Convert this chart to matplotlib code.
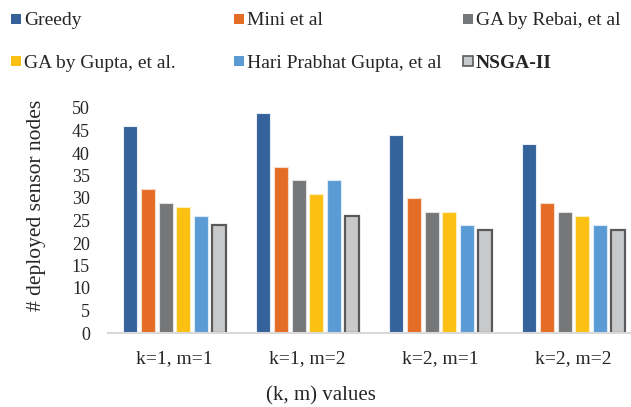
import numpy as np
import matplotlib.pyplot as plt
from matplotlib.patches import Rectangle

plt.rcParams['font.family'] = ['Liberation Serif', 'DejaVu Serif']

# Number of deployed sensor nodes per (k, m) setting
categories = ['k=1, m=1', 'k=1, m=2', 'k=2, m=1', 'k=2, m=2']
methods = ['Greedy', 'Mini et al', 'GA by Rebai, et al',
           'GA by Gupta, et al.', 'Hari Prabhat Gupta, et al', 'NSGA-II']
greedy = [46, 49, 44, 42]
mini = [32, 37, 30, 29]
rebai = [29, 34, 27, 27]
gupta_ga = [28, 31, 27, 26]
hari_gupta = [26, 34, 24, 24]
nsga2 = [24, 26, 23, 23]
series = [greedy, mini, rebai, gupta_ga, hari_gupta, nsga2]

colors = ['#35629A', '#E46C25', '#767779', '#FCC012', '#5B9BD5', '#C8C9CA']
edges = ['#E8EEF5', '#F8DCCB', '#E2E2E2', '#FDEFC0', '#DCE9F6', '#5A5A5A']
widths = [0.8, 0.8, 0.8, 0.8, 0.8, 1.6]

W, H = 631, 407
fig = plt.figure(figsize=(W / 100, H / 100), dpi=100)
ax = fig.add_axes([108 / W, (H - 333) / H, 532 / W, 225 / H])

x = np.arange(len(categories))
pitch = 0.133
for i, vals in enumerate(series):
    ax.bar(x + (i - 2.5) * pitch, vals, width=0.105, color=colors[i],
           edgecolor=edges[i], linewidth=widths[i], zorder=2)

ax.set_xlim(-0.5, 3.5)
ax.set_ylim(0, 50)
ax.set_yticks(range(0, 51, 5))
ax.set_xticks(x)
ax.set_xticklabels(categories, fontsize=14, color='#262626')
ax.tick_params(axis='y', length=0, pad=13, labelsize=13, labelcolor='#262626')
ax.tick_params(axis='x', length=0, pad=12)
for s in ['top', 'right', 'left']:
    ax.spines[s].set_visible(False)
ax.spines['bottom'].set_color('#D9D9D9')
ax.spines['bottom'].set_linewidth(1.5)

fig.text(37 / W, 1 - 205 / H, '# deployed sensor nodes', rotation=90,
         ha='center', va='center', fontsize=15.5, color='#262626')
fig.text(321 / W, 1 - 396 / H, '(k, m) values', ha='center', va='center',
         fontsize=15, color='#262626')

# legend laid out in two rows of three
col_x = [11, 234, 463]
row_base = [25, 67.5]
for i, name in enumerate(methods):
    cx = col_x[i % 3]
    by = row_base[i // 3]
    fig.add_artist(Rectangle((cx / W, 1 - (by - 1.5) / H), 10 / W, 10 / H,
                             transform=fig.transFigure, facecolor=colors[i],
                             edgecolor='#5A5A5A' if i == 5 else 'none',
                             linewidth=1.2))
    txt = fig.text((cx + 13) / W, 1 - by / H, name, ha='left', va='baseline',
                   fontsize=14, color='#262626')
    if name == 'NSGA-II':
        txt.set_fontweight('bold')

fig.savefig('out.png', dpi=100)
